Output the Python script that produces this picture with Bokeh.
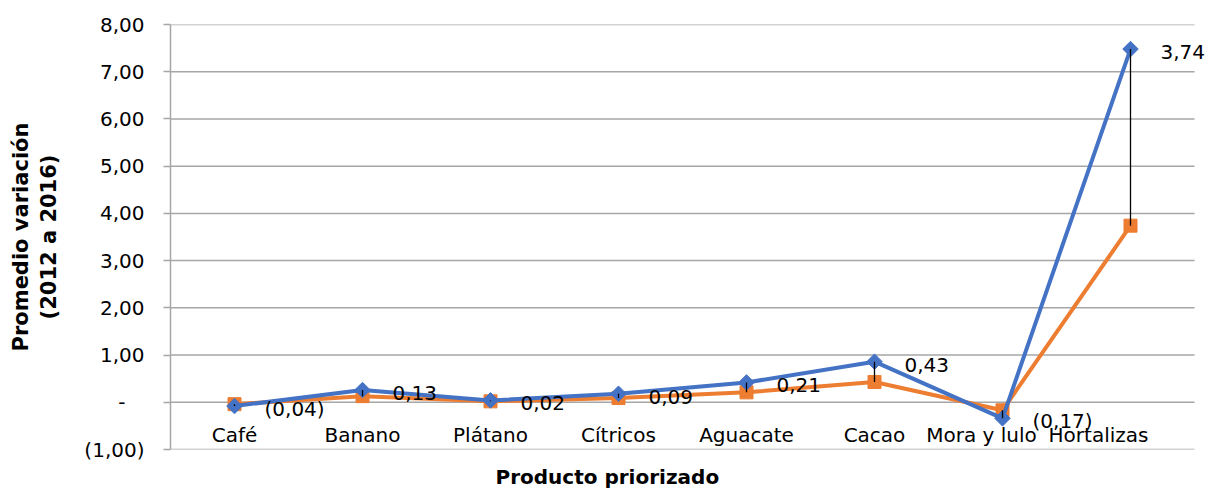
from bokeh.plotting import figure
from bokeh.models import Range1d, FixedTicker, ColumnDataSource, LabelSet, Title
from bokeh.embed import file_html
from bokeh.resources import INLINE
from bokeh.core.properties import value

# ---------------- data ----------------
categorias = ["Café", "Banano", "Plátano", "Cítricos", "Aguacate", "Cacao", "Mora y lulo", "Hortalizas"]
serie_azul = [-0.08, 0.26, 0.04, 0.18, 0.42, 0.86, -0.34, 7.48]
serie_naranja = [-0.04, 0.13, 0.02, 0.09, 0.21, 0.43, -0.17, 3.74]
y_ticks = [-1, 0, 1, 2, 3, 4, 5, 6, 7, 8]
y_tick_labels = ["(1,00)", "-\u00a0\u00a0\u00a0", "1,00", "2,00", "3,00", "4,00", "5,00", "6,00", "7,00", "8,00"]
titulo_y = "Promedio variación\n(2012 a 2016)"
titulo_x = "Producto priorizado"


def fmt(v):
    s = f"{abs(v):.2f}".replace(".", ",")
    return f"({s})" if v < 0 else s


# ---------------- style ----------------
FONT = "DejaVu Sans"
BLUE = "#4472C4"
ORANGE = "#ED7D31"
GRID = "#A6A6A6"
cat_label_dx = [0, 0, 0, 0, 0, 0, -21, -32]

n = len(categorias)
xpos = [i + 0.5 for i in range(n)]

src = ColumnDataSource(dict(
    x=xpos,
    cat=categorias,
    azul=serie_azul,
    naranja=serie_naranja,
    etiqueta=[fmt(v) for v in serie_naranja],
    cero=[0] * n,
    dx=cat_label_dx,
))

grid_src = ColumnDataSource(dict(
    x0=[0] * len(y_ticks), x1=[n] * len(y_ticks), y=y_ticks,
))

p = figure(
    width=1207, height=491,
    x_range=Range1d(0, n + 13 / 128),
    y_range=Range1d(-1, 8),
    output_backend="svg", toolbar_location=None,
    min_border_left=170, min_border_right=0, min_border_top=24, min_border_bottom=40,
)
p.outline_line_color = None
p.background_fill_color = "white"
p.border_fill_color = "white"
p.xgrid.grid_line_color = None
p.ygrid.grid_line_color = None

# invisible x axis used only as a spacer below the plot area
p.xaxis.ticker = FixedTicker(ticks=[0])
p.xaxis.major_label_overrides = {0: ""}
p.xaxis.axis_line_color = None
p.xaxis.major_tick_line_color = None
p.xaxis.minor_tick_line_color = None
p.xaxis.major_tick_out = 10
p.xaxis.major_tick_in = 0
p.xaxis.minor_tick_out = 0
p.xaxis.major_label_standoff = 0

# y axis
p.yaxis.ticker = FixedTicker(ticks=y_ticks)
p.yaxis.major_label_overrides = {t: l for t, l in zip(y_ticks, y_tick_labels)}
p.yaxis.axis_line_color = GRID
p.yaxis.axis_line_width = 1.5
p.yaxis.major_tick_line_color = GRID
p.yaxis.major_tick_line_width = 1.5
p.yaxis.major_tick_out = 7
p.yaxis.major_tick_in = 0
p.yaxis.minor_tick_line_color = None
p.yaxis.major_label_standoff = 19
p.yaxis.major_label_text_font = FONT
p.yaxis.major_label_text_font_size = "20px"
p.yaxis.major_label_text_color = "black"
p.yaxis.axis_label = titulo_y
p.yaxis.axis_label_text_font = FONT
p.yaxis.axis_label_text_font_style = "bold"
p.yaxis.axis_label_text_font_size = "21px"
p.yaxis.axis_label_text_color = "black"
p.yaxis.axis_label_standoff = 20

# horizontal gridlines (stop at the end of the category area)
p.segment(x0="x0", y0="y", x1="x1", y1="y", source=grid_src, line_color=GRID, line_width=1.5)

# series
p.line("x", "naranja", source=src, line_color=ORANGE, line_width=4)
p.scatter("x", "naranja", source=src, marker="square", size=13,
          fill_color=ORANGE, line_color=ORANGE)
p.line("x", "azul", source=src, line_color=BLUE, line_width=4)
p.scatter("x", "azul", source=src, marker="square", angle=0.785398, size=11,
          fill_color=BLUE, line_color=BLUE)
# high-low lines
p.segment(x0="x", y0="azul", x1="x", y1="naranja", source=src,
          line_color="black", line_width=1.3)

# category labels (axis crossing at 0)
p.add_layout(LabelSet(x="x", y="cero", text="cat", source=src, x_offset="dx", y_offset=-33,
                      text_align="center", text_baseline="middle",
                      text_font=value(FONT), text_font_size="20px", text_color="black"))

# data labels
p.add_layout(LabelSet(x="x", y="azul", text="etiqueta", source=src, x_offset=30, y_offset=-3,
                      text_align="left", text_baseline="middle",
                      text_font=value(FONT), text_font_size="20px", text_color="black"))

# x axis title
p.add_layout(Title(text=titulo_x, align="left", offset=325, standoff=6,
                   text_font=FONT, text_font_style="bold", text_font_size="20px",
                   text_color="black"), "below")

open("out.html", "w").write(file_html(p, INLINE))
